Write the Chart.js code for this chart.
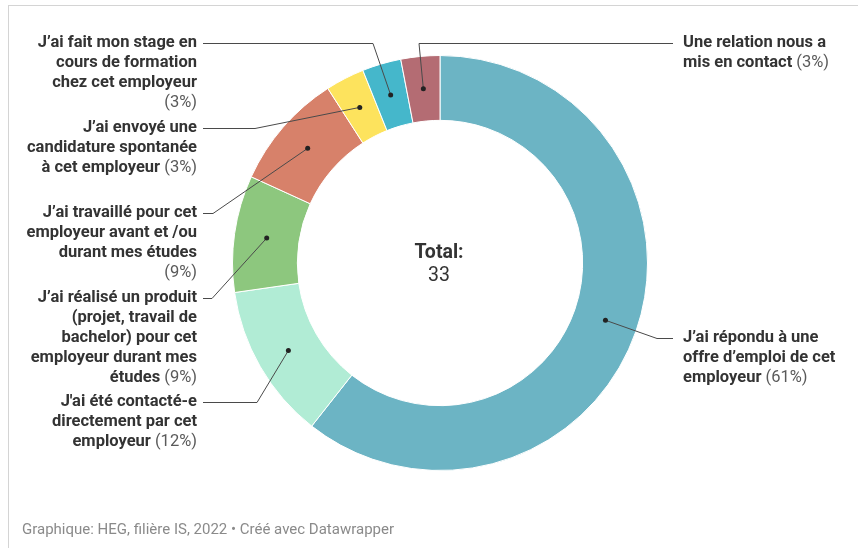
<!DOCTYPE html>
<html lang="fr">
<head>
<meta charset="utf-8">
<title>Comment avez-vous trouvé votre emploi ?</title>
<script src="https://cdn.jsdelivr.net/npm/chart.js@4.4.0/dist/chart.umd.min.js"></script>
<style>
  body { margin: 0; background: #fff; }
  #wrap { position: relative; width: 858px; height: 548px; }
  #frame { position: absolute; left: 8px; top: 5px; right: 0; bottom: 0;
           border-top: 1px solid #d4d4d4; border-left: 1px solid #d4d4d4; }
  canvas { position: absolute; left: 0; top: 0; }
</style>
</head>
<body>
<div id="wrap">
  <div id="frame"></div>
  <canvas id="donut" width="858" height="548"></canvas>
</div>
<script>
'use strict'

// labels, already broken into lines the way they are shown
const labelLines = [
    ['J’ai répondu à une', 'offre d’emploi de cet', 'employeur'],
    ['J\'ai été contacté-e', 'directement par cet', 'employeur'],
    ['J’ai réalisé un produit', '(projet, travail de', 'bachelor) pour cet', 'employeur durant mes', 'études'],
    ['J’ai travaillé pour cet', 'employeur avant et /ou', 'durant mes études'],
    ['J’ai envoyé une', 'candidature spontanée', 'à cet employeur'],
    ['J’ai fait mon stage en', 'cours de formation', 'chez cet employeur'],
    ['Une relation nous a', 'mis en contact']
];
const categories = labelLines.map(lines => lines.join(' '));

// number of answers per category
const counts = [20, 4, 3, 3, 1, 1, 1];

const colors = ['#6cb4c4', '#b1ecd5', '#8dc77e', '#d7816a', '#fde35d', '#45b7cb', '#b46c73'];

const footerText = 'Graphique: HEG, filière IS, 2022 • Créé avec Datawrapper';

// where each label sits and where its leader line bends
const labelLayout = [
    { side: 'right', y: 338, elbow: 657, pctOwnLine: false },
    { side: 'left', y: 402, elbow: 257, pctOwnLine: false },
    { side: 'left', y: 298, elbow: 212, pctOwnLine: false },
    { side: 'left', y: 213, elbow: 213, pctOwnLine: true },
    { side: 'left', y: 128, elbow: 255, pctOwnLine: false },
    { side: 'left', y: 43, elbow: 373, pctOwnLine: true },
    { side: 'right', y: 43, elbow: 419, pctOwnLine: false }
];

const total = counts.reduce((a, b) => a + b, 0);
const LINE_H = 20;
const LEFT_TEXT_X = 197;
const RIGHT_TEXT_X = 683;
const BOLD = 'bold 16.5px Roboto';
const REGULAR = '16.5px Roboto';

function drawLabelLine(ctx, side, x, y, boldPart, regPart) {
    ctx.font = BOLD;
    let wb = ctx.measureText(boldPart).width;
    ctx.font = REGULAR;
    let wr = regPart ? ctx.measureText(regPart).width : 0;
    let start = side === 'left' ? x - wb - wr : x;
    ctx.textAlign = 'left';
    ctx.font = BOLD;
    ctx.fillStyle = '#333333';
    ctx.fillText(boldPart, start, y);
    if (regPart) {
        ctx.font = REGULAR;
        ctx.fillStyle = '#5a5a5a';
        ctx.fillText(regPart, start + wb, y);
    }
}

const donutLabels = {
    id: 'donutLabels',
    afterDatasetsDraw(chart) {
        const ctx = chart.ctx;
        const meta = chart.getDatasetMeta(0);
        ctx.save();
        ctx.textBaseline = 'middle';

        meta.data.forEach((arc, i) => {
            const lay = labelLayout[i];
            const pos = arc.tooltipPosition();
            const pct = '(' + Math.round(counts[i] / total * 100) + '%)';
            const lineStart = lay.side === 'left' ? LEFT_TEXT_X + 6 : RIGHT_TEXT_X - 10;

            // leader line
            ctx.strokeStyle = '#4a4a4a';
            ctx.lineWidth = 1;
            ctx.beginPath();
            ctx.moveTo(lineStart, lay.y + 0.5);
            ctx.lineTo(lay.elbow, lay.y + 0.5);
            ctx.lineTo(pos.x, pos.y);
            ctx.stroke();

            ctx.fillStyle = '#222222';
            ctx.beginPath();
            ctx.arc(pos.x, pos.y, 2.5, 0, Math.PI * 2);
            ctx.fill();

            // label text
            const x = lay.side === 'left' ? LEFT_TEXT_X : RIGHT_TEXT_X;
            const lines = labelLines[i];
            lines.forEach((line, j) => {
                const last = j === lines.length - 1;
                const reg = last && !lay.pctOwnLine ? ' ' + pct : '';
                drawLabelLine(ctx, lay.side, x, lay.y + j * LINE_H, line, reg);
            });
            if (lay.pctOwnLine) {
                drawLabelLine(ctx, lay.side, x, lay.y + lines.length * LINE_H, '', pct);
            }
        });

        // total in the middle
        const cx = (chart.chartArea.left + chart.chartArea.right) / 2;
        const cy = (chart.chartArea.top + chart.chartArea.bottom) / 2;
        ctx.textAlign = 'center';
        ctx.fillStyle = '#333333';
        ctx.font = 'bold 19.5px Roboto';
        ctx.fillText('Total:', cx - 1, cy - 10);
        ctx.font = '19.5px Roboto';
        ctx.fillText(String(total), cx - 1, cy + 13);

        // footer
        ctx.textAlign = 'left';
        ctx.fillStyle = '#8a8a8a';
        ctx.font = '15px Roboto';
        ctx.fillText(footerText, 22, 530);
        ctx.restore();
    }
};

const ctx = document.getElementById('donut').getContext('2d');
const donut = new Chart(ctx, {
    type: 'doughnut',
    data: {
        labels: categories,
        datasets: [{
            data: counts,
            backgroundColor: colors,
            borderColor: '#ffffff',
            borderWidth: 1
        }]
    },
    options: {
        responsive: false,
        animation: false,
        cutout: '68.75%',
        layout: {
            padding: { left: 232, right: 210, top: 55, bottom: 77 }
        },
        plugins: {
            legend: { display: false },
            tooltip: { enabled: false }
        }
    },
    plugins: [donutLabels]
});
</script>
</body>
</html>
